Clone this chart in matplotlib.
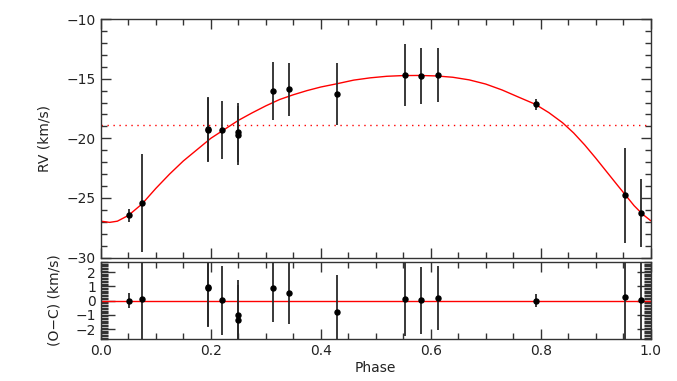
import numpy as np
import matplotlib
matplotlib.use("Agg")
import matplotlib.pyplot as plt
from matplotlib.ticker import MultipleLocator

plt.rcParams.update({"font.size": 10, "font.family": "DejaVu Sans", "text.color": "#222222",
                     "axes.labelcolor": "#222222", "xtick.labelcolor": "#222222",
                     "ytick.labelcolor": "#222222"})

phase = [0.051, 0.075, 0.195, 0.195, 0.220, 0.250, 0.250, 0.314, 0.343,
         0.429, 0.553, 0.582, 0.613, 0.791, 0.954, 0.982]
rv = [-26.47, -25.40, -19.20, -19.30, -19.30, -19.50, -19.75, -16.05, -15.90,
      -16.25, -14.68, -14.76, -14.68, -17.14, -24.79, -26.28]
rv_err = [0.55, 4.1, 2.7, 2.7, 2.4, 2.45, 2.45, 2.42, 2.2,
          2.6, 2.58, 2.35, 2.24, 0.47, 3.97, 2.84]
resid = [0.0, 0.1, 0.92, 0.85, 0.02, -1.03, -1.33, 0.9, 0.56,
         -0.8, 0.09, 0.02, 0.16, 0.0, 0.23, 0.02]

# orbit model curve
model_phase = [0.000, 0.016, 0.030, 0.050, 0.075, 0.100, 0.125, 0.150, 0.175,
               0.200, 0.225, 0.250, 0.275, 0.300, 0.325, 0.350, 0.375, 0.400,
               0.430, 0.460, 0.490, 0.520, 0.550, 0.580, 0.610, 0.640, 0.670,
               0.700, 0.730, 0.760, 0.790, 0.815, 0.840, 0.860, 0.880, 0.900,
               0.920, 0.940, 0.955, 0.970, 0.985, 1.000]
model_rv = [-26.95, -27.05, -26.95, -26.47, -25.50, -24.20, -23.00, -21.90, -20.95,
            -20.00, -19.25, -18.50, -17.87, -17.28, -16.75, -16.35, -16.00, -15.70,
            -15.42, -15.12, -14.93, -14.80, -14.74, -14.73, -14.77, -14.88, -15.10,
            -15.45, -15.95, -16.55, -17.14, -17.85, -18.70, -19.55, -20.55, -21.65,
            -22.80, -23.95, -24.80, -25.65, -26.35, -26.90]
gamma = -18.85

fig = plt.figure(figsize=(6.77, 3.81), dpi=100)
ax1 = fig.add_axes([0.149, 0.324, 0.812, 0.626])
ax2 = fig.add_axes([0.149, 0.110, 0.812, 0.202])

ebar = dict(fmt="o", color="black", ms=3.6, ecolor="#2a2a2a", elinewidth=1.3, capsize=0)

ax1.plot(model_phase, model_rv, color="red", lw=1)
ax1.axhline(gamma, color="red", lw=1, ls=(0, (1, 3.3)))
ax1.errorbar(phase, rv, yerr=rv_err, **ebar)
ax1.set_xlim(0, 1)
ax1.set_ylim(-30, -10)
ax1.yaxis.set_major_locator(MultipleLocator(5))
ax1.yaxis.set_minor_locator(MultipleLocator(1))
ax1.xaxis.set_major_locator(MultipleLocator(0.2))
ax1.xaxis.set_minor_locator(MultipleLocator(0.05))
ax1.set_xticklabels([])
ax1.set_ylabel("RV (km/s)")
ax1.yaxis.set_label_coords(-0.089, 0.5)

ax2.axhline(0, color="red", lw=1)
ax2.errorbar(phase, resid, yerr=rv_err, **ebar)
ax2.set_xlim(0, 1)
ax2.set_ylim(-2.7, 2.7)
ax2.yaxis.set_major_locator(MultipleLocator(1))
ax2.yaxis.set_minor_locator(MultipleLocator(0.1))
ax2.xaxis.set_major_locator(MultipleLocator(0.2))
ax2.xaxis.set_minor_locator(MultipleLocator(0.05))
ax2.xaxis.set_major_formatter(plt.FormatStrFormatter("%.1f"))
ax2.set_xlabel("Phase", labelpad=2)
ax2.set_ylabel("(O\u2212C) (km/s)")
ax2.yaxis.set_label_coords(-0.072, 0.5)

for ax in (ax1, ax2):
    ax.tick_params(which="both", direction="in", top=True, right=True, color="#333333")
    ax.tick_params(which="major", length=7, width=1)
    ax.tick_params(which="minor", length=4, width=1)
    for s in ax.spines.values():
        s.set_linewidth(1)
        s.set_color("#333333")
ax2.tick_params(axis="y", which="major", length=10)
ax2.tick_params(axis="y", which="minor", length=5)

fig.savefig("out.png", dpi=100)
